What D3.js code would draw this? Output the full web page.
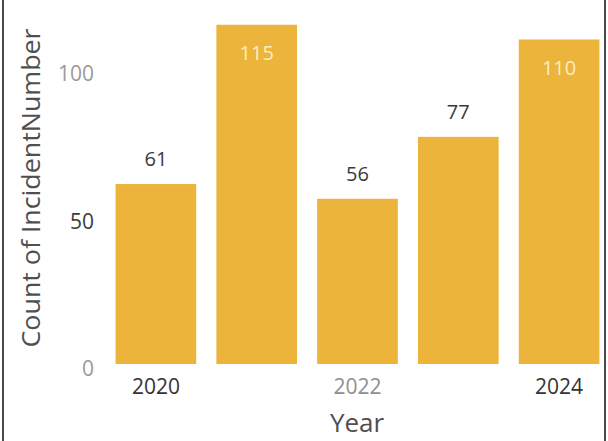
<!DOCTYPE html>
<html><head><meta charset="utf-8">
<script src="https://cdn.jsdelivr.net/npm/d3@7/dist/d3.min.js"></script>
<style>
html,body{margin:0;padding:0;background:#fff;}
svg{display:block;font-family:"Open Sans","Noto Sans",sans-serif;}
</style></head>
<body>
<svg id="chart" width="608" height="441"></svg>
<script>
const years = ["2020", "2021", "2022", "2023", "2024"];
const counts = [61, 115, 56, 77, 110];
const xTickLabels = ["2020", "2022", "2024"];
const yTickValues = [0, 50, 100];
const xTitle = "Year";
const yTitle = "Count of IncidentNumber";

const svg = d3.select("#chart");
const W = 608, H = 441;

// frame lines
svg.append("line").attr("x1", 3).attr("x2", 3).attr("y1", 0).attr("y2", H)
  .attr("stroke", "#4a4a4a").attr("stroke-width", 2);
svg.append("line").attr("x1", 605).attr("x2", 605).attr("y1", 0).attr("y2", H)
  .attr("stroke", "#4a4a4a").attr("stroke-width", 2);

const x = d3.scaleBand().domain(years).range([105.5, 609.5])
  .paddingInner(0.2).paddingOuter(0.1);
const y = d3.scaleLinear().domain([0, 120]).range([364, 364 - 2.95 * 120]);

const data = years.map((yr, i) => ({year: yr, value: counts[i]}));

svg.selectAll("rect.bar").data(data).enter().append("rect")
  .attr("class", "bar")
  .attr("x", d => x(d.year))
  .attr("width", x.bandwidth())
  .attr("y", d => y(d.value))
  .attr("height", d => y(0) - y(d.value))
  .attr("fill", "#ecb43a");

// data labels
svg.selectAll("text.dl").data(data).enter().append("text")
  .attr("class", "dl")
  .attr("x", d => x(d.year) + x.bandwidth() / 2)
  .attr("y", d => d.value > 100 ? y(d.value) + 35 : y(d.value) - 18)
  .attr("text-anchor", "middle")
  .attr("font-size", 20)
  .attr("fill", d => d.value > 100 ? "#fbeec4" : "#3a3a3a")
  .text(d => d.value);

// y axis
const yAxis = d3.axisLeft(y).tickValues(yTickValues).tickSize(0).tickPadding(0);
const gy = svg.append("g").attr("transform", "translate(94,0)").call(yAxis);
gy.select(".domain").remove();
gy.selectAll("text")
  .attr("font-size", 21)
  .attr("font-family", "'Open Sans','Noto Sans',sans-serif")
  .attr("dy", "0.55em")
  .attr("fill", d => d === 50 ? "#3a3a3a" : "#9a9a9a");

// x axis
const xAxis = d3.axisBottom(x).tickValues(xTickLabels).tickSize(0).tickPadding(0);
const gx = svg.append("g").attr("transform", "translate(0,379)").call(xAxis);
gx.select(".domain").remove();
gx.selectAll("text")
  .attr("font-size", 21)
  .attr("font-family", "'Open Sans','Noto Sans',sans-serif")
  .attr("dy", "0.71em")
  .attr("fill", d => d === "2022" ? "#8f8f8f" : "#333");

// axis titles
svg.append("text")
  .attr("x", 357).attr("y", 432)
  .attr("text-anchor", "middle")
  .attr("font-size", 26)
  .attr("fill", "#4f4f4f")
  .text(xTitle);

svg.append("text")
  .attr("transform", "translate(40,188) rotate(-90)")
  .attr("text-anchor", "middle")
  .attr("font-size", 26)
  .attr("textLength", 319)
  .attr("lengthAdjust", "spacingAndGlyphs")
  .attr("fill", "#4f4f4f")
  .text(yTitle);
</script>
</body></html>
